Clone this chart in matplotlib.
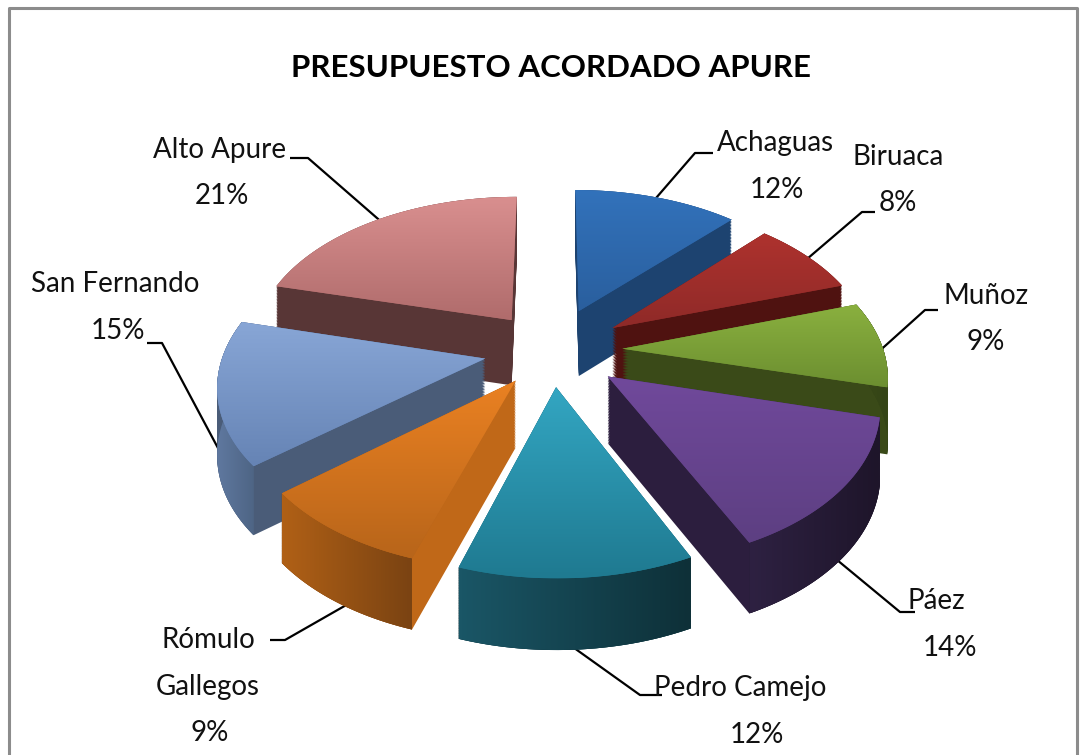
import numpy as np
import matplotlib
matplotlib.use('Agg')
import matplotlib.pyplot as plt
from matplotlib.transforms import Transform, Affine2D
from matplotlib.path import Path
from matplotlib.patches import PathPatch
from matplotlib.colors import LinearSegmentedColormap

names = ['Achaguas', 'Biruaca', 'Muñoz', 'Páez', 'Pedro Camejo', 'Rómulo\nGallegos', 'San Fernando', 'Alto Apure']
shares = [12, 8, 9, 14, 12, 9, 15, 21]
explode = [0.29, 0.28, 0.27, 0.27, 0.24, 0.24, 0.26, 0.26]
top_colors = [('#3272bb', '#2a5f9e'), ('#ae322e', '#8f2a28'), ('#8ab03f', '#6c8f30'), ('#70499b', '#5d3f82'),
              ('#33a6c2', '#1f7a91'), ('#ea8122', '#b8651a'), ('#88a6d6', '#6684b5'), ('#d98f8f', '#b06c6c')]
inner_colors = ['#1d4370', '#4f1210', '#3a4a18', '#2c1e3e', '#1a5c6e', '#c06818', '#4a5c78', '#583636']
outer_colors = [None, None, ('#3a4a18', '#344416'), ('#2e2142', '#1e152a'), ('#1a5666', '#0e3038'),
                ('#b06016', '#7a4312'), ('#5f789f', '#4e6585'), None]
draw_order = [7, 0, 1, 2, 6, 3, 5, 4]
label_pos = [(775, 143), (898, 157), (986, 296), (936, 601), (740, 688), (208, 640), (115, 284), (220, 150)]
pct_pos = [(777, 190), (898, 203), (986, 342), (950, 648), (757, 735), (210, 733), (118, 331), (222, 196)]
leaders = [[(650, 205), (695, 153), (713, 153)], [(800, 265), (862, 212), (875, 212)],
           [(875, 355), (925, 310), (938, 310)], [(825, 550), (900, 612), (915, 612)],
           [(570, 645), (640, 695), (662, 695)], [(355, 600), (285, 640), (270, 640)],
           [(235, 480), (162, 343), (147, 343)], [(385, 225), (308, 158), (290, 158)]]
title = 'PRESUPUESTO ACORDADO APURE'

CX, CY, RX, RY, K, DEPTH = 552, 350, 261, 150, 0.15, 66


class Persp(Transform):
    input_dims = output_dims = 2

    def __init__(self, z=0.0):
        super().__init__()
        self.z = z

    def transform_non_affine(self, xy):
        xy = np.asarray(xy, dtype=float)
        w = 1 + K * xy[:, 1]
        return np.column_stack([CX + RX * xy[:, 0] / w,
                                CY - RY * xy[:, 1] / w + DEPTH * self.z / w ** 0.4])


fig = plt.figure(figsize=(10.84, 7.55), dpi=100, facecolor='white')
ax = fig.add_axes([0, 0, 1, 1])
wedges, _ = ax.pie(shares, explode=explode, startangle=90, counterclock=False,
                   colors=['none'] * len(shares))
ax.set_aspect('auto')
ax.axis('off')


def outline(w):
    p = w.get_path().transformed(w.get_patch_transform())
    big = p.transformed(Affine2D().scale(2000))
    return big.to_polygons(closed_only=True)[0] / 2000


def shape(w, z):
    return Path(Persp(z).transform(outline(w)), closed=True)


def arc_strip(w):
    pts = outline(w)
    c = np.asarray(w.center)
    arc = pts[np.abs(np.hypot(*(pts - c).T) - w.r) < 1e-3]
    ang = np.arctan2(arc[:, 1] - c[1], arc[:, 0] - c[0])
    arc = arc[np.argsort(np.unwrap(ang))]
    upper = Persp(0).transform(arc)
    lower = Persp(1).transform(arc)[::-1]
    return Path(np.vstack([upper, lower, upper[:1]]), closed=True)


def grad(cols, vertical, ext, zorder, clip):
    cmap = LinearSegmentedColormap.from_list('g', cols)
    g = np.linspace(0, 1, 64)
    arr = g[:, None] if vertical else g[None, :]
    im = ax.imshow(arr, cmap=cmap, extent=(ext.x0, ext.x1, ext.y1, ext.y0), aspect='auto',
                   zorder=zorder, interpolation='bilinear', origin='upper')
    im.set_clip_path(PathPatch(clip, transform=ax.transData))


for n, i in enumerate(draw_order):
    w = wedges[i]
    zo = 10 + 2 * n
    layers = [shape(w, z) for z in np.linspace(1, 0, 44)]
    for lay in layers:
        ax.add_patch(PathPatch(lay, fc=inner_colors[i], ec='none', zorder=zo))
    if outer_colors[i]:
        strip = arc_strip(w)
        ax.add_patch(PathPatch(strip, fc=outer_colors[i][1], ec='none', zorder=zo + 0.2))
        grad(outer_colors[i], False, strip.get_extents(), zo + 0.3, strip)
    t = layers[-1]
    ax.add_patch(PathPatch(t, fc=top_colors[i][1], ec='none', zorder=zo + 0.5))
    grad(top_colors[i], True, t.get_extents(), zo + 0.6, t)

ax.set_xlim(0, 1084)
ax.set_ylim(755, 0)

font = 'Lato'
size = 20
step = 47
for i, nm in enumerate(names):
    for j, line in enumerate(nm.split('\n')):
        ax.text(label_pos[i][0], label_pos[i][1] + j * step, line, ha='center', va='center',
                fontsize=size, family=font, color='#111111', zorder=50)
    ax.text(*pct_pos[i], f'{shares[i]}%', ha='center', va='center', fontsize=size, family=font,
            color='#111111', zorder=50)
    xs, ys = zip(*leaders[i])
    ax.plot(xs, ys, color='black', lw=1.6, zorder=5, solid_capstyle='butt')

ax.text(551, 68, title, ha='center', va='center', fontsize=22.5, fontweight='bold', family=font,
        color='black', zorder=50)

ax.plot([9, 9, 1077, 1077], [755, 8, 8, 755], color='#8c8c8c', lw=2.2, zorder=60)

fig.savefig('out.png', dpi=100)
